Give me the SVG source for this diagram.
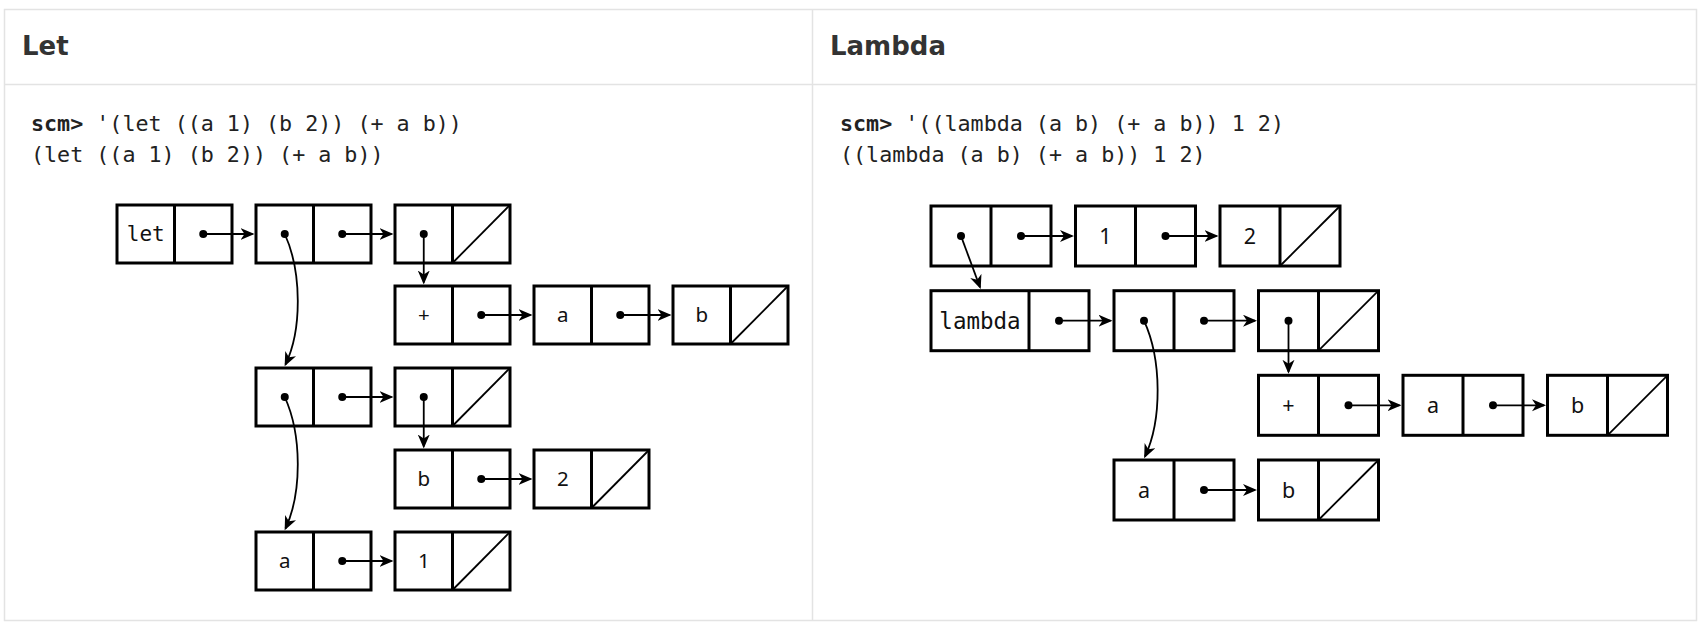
<svg xmlns="http://www.w3.org/2000/svg" width="1698" height="622" viewBox="0 0 1698 622">
<style>
.frame{fill:none;stroke:#e3e3e3;stroke-width:1.5}
.hdr{font-family:"DejaVu Sans",sans-serif;font-weight:700;font-size:26px;fill:#333}
.code{font-family:"DejaVu Sans Mono","Liberation Mono",monospace;font-size:21.7px;fill:#222}
.code .b{font-weight:700}
.node rect{fill:#fff;stroke:#000;stroke-width:3}
.node .dv{stroke:#000;stroke-width:3}
.node .dg{stroke:#000;stroke-width:1.8}
.node circle{fill:#000}
.node text{font-family:"Noto Sans","DejaVu Sans",sans-serif;font-size:20.5px;text-anchor:middle;fill:#111}
.node text.m{font-family:"DejaVu Sans Mono",monospace;font-size:21px}
.R text{font-size:21.5px}
.R text.m{font-size:22.5px}
.conn path{fill:none;stroke:#000;stroke-width:1.8;marker-end:url(#arr)}
</style>
<defs>
<marker id="arr" markerUnits="userSpaceOnUse" markerWidth="16" markerHeight="14" refX="12" refY="6" orient="auto">
<path d="M0,0 L14,6 L0,12 L4,6 Z" fill="#000"/>
</marker>
</defs>
<rect x="0" y="0" width="1698" height="622" fill="#fff"/>
<g id="table">
<rect class="frame" x="4.5" y="9.5" width="1692" height="611"/>
<line class="frame" x1="4.5" y1="84.5" x2="1696.5" y2="84.5"/>
<line class="frame" x1="812.5" y1="9.5" x2="812.5" y2="620.5"/>
<text class="hdr" x="22" y="55">Let</text>
<text class="hdr" x="830" y="55">Lambda</text>
<text class="code" x="31" y="131"><tspan class="b">scm&gt;</tspan> '(let ((a 1) (b 2)) (+ a b))</text>
<text class="code" x="31" y="162">(let ((a 1) (b 2)) (+ a b))</text>
<text class="code" x="840" y="131"><tspan class="b">scm&gt;</tspan> '((lambda (a b) (+ a b)) 1 2)</text>
<text class="code" x="840" y="162">((lambda (a b) (+ a b)) 1 2)</text>
</g>

<!-- LET diagram: box 115x58 -->
<g id="L1a" class="node" transform="translate(117,205)"><rect width="115" height="58"/><line class="dv" x1="57.5" y1="0" x2="57.5" y2="58"/><text class="m" x="28.75" y="36">let</text><circle cx="86.25" cy="29" r="4"/></g>
<g id="L1b" class="node" transform="translate(256,205)"><rect width="115" height="58"/><line class="dv" x1="57.5" y1="0" x2="57.5" y2="58"/><circle cx="28.75" cy="29" r="4"/><circle cx="86.25" cy="29" r="4"/></g>
<g id="L1c" class="node" transform="translate(395,205)"><rect width="115" height="58"/><line class="dv" x1="57.5" y1="0" x2="57.5" y2="58"/><circle cx="28.75" cy="29" r="4"/><line class="dg" x1="57.5" y1="58" x2="115" y2="0"/></g>
<g id="L2a" class="node" transform="translate(395,286)"><rect width="115" height="58"/><line class="dv" x1="57.5" y1="0" x2="57.5" y2="58"/><text x="28.75" y="36">+</text><circle cx="86.25" cy="29" r="4"/></g>
<g id="L2b" class="node" transform="translate(534,286)"><rect width="115" height="58"/><line class="dv" x1="57.5" y1="0" x2="57.5" y2="58"/><text x="28.75" y="36">a</text><circle cx="86.25" cy="29" r="4"/></g>
<g id="L2c" class="node" transform="translate(673,286)"><rect width="115" height="58"/><line class="dv" x1="57.5" y1="0" x2="57.5" y2="58"/><text x="28.75" y="36">b</text><line class="dg" x1="57.5" y1="58" x2="115" y2="0"/></g>
<g id="L3a" class="node" transform="translate(256,368)"><rect width="115" height="58"/><line class="dv" x1="57.5" y1="0" x2="57.5" y2="58"/><circle cx="28.75" cy="29" r="4"/><circle cx="86.25" cy="29" r="4"/></g>
<g id="L3b" class="node" transform="translate(395,368)"><rect width="115" height="58"/><line class="dv" x1="57.5" y1="0" x2="57.5" y2="58"/><circle cx="28.75" cy="29" r="4"/><line class="dg" x1="57.5" y1="58" x2="115" y2="0"/></g>
<g id="L4a" class="node" transform="translate(395,450)"><rect width="115" height="58"/><line class="dv" x1="57.5" y1="0" x2="57.5" y2="58"/><text x="28.75" y="36">b</text><circle cx="86.25" cy="29" r="4"/></g>
<g id="L4b" class="node" transform="translate(534,450)"><rect width="115" height="58"/><line class="dv" x1="57.5" y1="0" x2="57.5" y2="58"/><text x="28.75" y="36">2</text><line class="dg" x1="57.5" y1="58" x2="115" y2="0"/></g>
<g id="L5a" class="node" transform="translate(256,532)"><rect width="115" height="58"/><line class="dv" x1="57.5" y1="0" x2="57.5" y2="58"/><text x="28.75" y="36">a</text><circle cx="86.25" cy="29" r="4"/></g>
<g id="L5b" class="node" transform="translate(395,532)"><rect width="115" height="58"/><line class="dv" x1="57.5" y1="0" x2="57.5" y2="58"/><text x="28.75" y="36">1</text><line class="dg" x1="57.5" y1="58" x2="115" y2="0"/></g>

<!-- LAMBDA diagram: box 120x60 -->
<g id="R1a" class="node R" transform="translate(931,206)"><rect width="120" height="60"/><line class="dv" x1="60" y1="0" x2="60" y2="60"/><circle cx="30" cy="30" r="4"/><circle cx="90" cy="30" r="4"/></g>
<g id="R1b" class="node R" transform="translate(1075.5,206)"><rect width="120" height="60"/><line class="dv" x1="60" y1="0" x2="60" y2="60"/><text x="30" y="37.5">1</text><circle cx="90" cy="30" r="4"/></g>
<g id="R1c" class="node R" transform="translate(1220,206)"><rect width="120" height="60"/><line class="dv" x1="60" y1="0" x2="60" y2="60"/><text x="30" y="37.5">2</text><line class="dg" x1="60" y1="60" x2="120" y2="0"/></g>
<g id="R2a" class="node R" transform="translate(931,290.7)"><rect width="158" height="60"/><line class="dv" x1="98" y1="0" x2="98" y2="60"/><text class="m" x="49" y="38">lambda</text><circle cx="128" cy="30" r="4"/></g>
<g id="R2b" class="node R" transform="translate(1114,290.7)"><rect width="120" height="60"/><line class="dv" x1="60" y1="0" x2="60" y2="60"/><circle cx="30" cy="30" r="4"/><circle cx="90" cy="30" r="4"/></g>
<g id="R2c" class="node R" transform="translate(1258.5,290.7)"><rect width="120" height="60"/><line class="dv" x1="60" y1="0" x2="60" y2="60"/><circle cx="30" cy="30" r="4"/><line class="dg" x1="60" y1="60" x2="120" y2="0"/></g>
<g id="R3a" class="node R" transform="translate(1258.5,375.3)"><rect width="120" height="60"/><line class="dv" x1="60" y1="0" x2="60" y2="60"/><text x="30" y="37.5">+</text><circle cx="90" cy="30" r="4"/></g>
<g id="R3b" class="node R" transform="translate(1403,375.3)"><rect width="120" height="60"/><line class="dv" x1="60" y1="0" x2="60" y2="60"/><text x="30" y="37.5">a</text><circle cx="90" cy="30" r="4"/></g>
<g id="R3c" class="node R" transform="translate(1547.5,375.3)"><rect width="120" height="60"/><line class="dv" x1="60" y1="0" x2="60" y2="60"/><text x="30" y="37.5">b</text><line class="dg" x1="60" y1="60" x2="120" y2="0"/></g>
<g id="R4a" class="node R" transform="translate(1114,460)"><rect width="120" height="60"/><line class="dv" x1="60" y1="0" x2="60" y2="60"/><text x="30" y="37.5">a</text><circle cx="90" cy="30" r="4"/></g>
<g id="R4b" class="node R" transform="translate(1258.5,460)"><rect width="120" height="60"/><line class="dv" x1="60" y1="0" x2="60" y2="60"/><text x="30" y="37.5">b</text><line class="dg" x1="60" y1="60" x2="120" y2="0"/></g>

<g id="connectors" class="conn">
<path d="M203.25,234 H252.5"/>
<path d="M284.75,234 C302,272 302,330 285.5,364.5"/>
<path d="M342.25,234 H391.5"/>
<path d="M423.75,234 V282.5"/>
<path d="M481.25,315 H530.5"/>
<path d="M620.25,315 H669.5"/>
<path d="M284.75,397 C302,435 302,493 285.5,528.5"/>
<path d="M342.25,397 H391.5"/>
<path d="M423.75,397 V446.5"/>
<path d="M481.25,479 H530.5"/>
<path d="M342.25,561 H391.5"/>

<path d="M961,236 L980,287.2"/>
<path d="M1021,236 H1072"/>
<path d="M1165.5,236 H1216.5"/>
<path d="M1059,320.7 H1110.5"/>
<path d="M1144,320.7 C1162,360 1162,420 1145,456.5"/>
<path d="M1204,320.7 H1255"/>
<path d="M1288.5,320.7 V371.8"/>
<path d="M1348.5,405.3 H1399.5"/>
<path d="M1493,405.3 H1544"/>
<path d="M1204,490 H1255"/>
</g>
</svg>
